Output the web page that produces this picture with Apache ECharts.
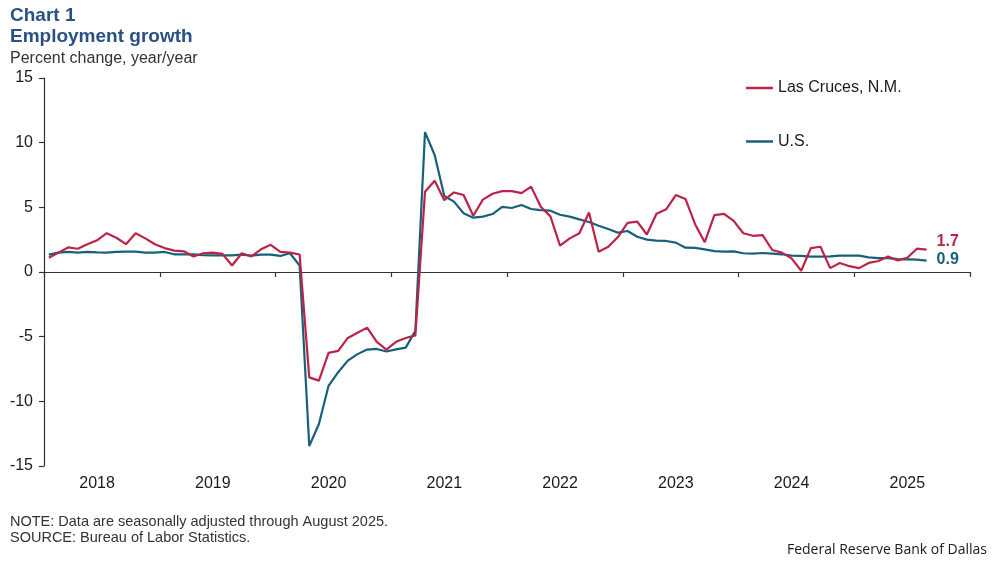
<!DOCTYPE html>
<html>
<head>
<meta charset="utf-8">
<script src="https://cdn.jsdelivr.net/npm/echarts@6/dist/echarts.min.js"></script>
<style>
html,body{margin:0;padding:0;background:#fff;}
#chart{width:997px;height:565px;}
</style>
</head>
<body>
<div id="chart"></div>
<script>
// ---- data ----
const years = ['2018','2019','2020','2021','2022','2023','2024','2025'];
const monthNames = ['01','02','03','04','05','06','07','08','09','10','11','12'];
const categories = [];
years.forEach(y => monthNames.forEach(m => categories.push(y + '-' + m)));

const seriesNames = ['Las Cruces, N.M.', 'U.S.'];

const lasCruces = [
  1.1, 1.5, 1.9, 1.8, 2.15, 2.45, 3.0, 2.65, 2.15, 3.0, 2.6, 2.15,
  1.85, 1.65, 1.6, 1.2, 1.45, 1.5, 1.4, 0.5, 1.45, 1.2, 1.75, 2.1,
  1.55, 1.5, 1.35, -8.15, -8.4, -6.25, -6.1, -5.1, -4.7, -4.3, -5.4, -6.0,
  -5.4, -5.1, -4.9, 6.2, 7.05, 5.55, 6.15, 5.95, 4.35, 5.6, 6.05, 6.25,
  6.25, 6.1, 6.6, 5.05, 4.3, 2.04, 2.6, 3.0, 4.6, 1.57, 1.95, 2.7,
  3.8, 3.9, 2.9, 4.5, 4.85, 5.95, 5.65, 3.7, 2.3, 4.4, 4.5, 3.95,
  3.0, 2.8, 2.85, 1.7, 1.5, 1.05, 0.1, 1.85, 1.95, 0.3, 0.7, 0.45,
  0.3, 0.7, 0.85, 1.2, 0.9, 1.1, 1.8, 1.73
];

const us = [
  1.34, 1.5, 1.55, 1.5, 1.55, 1.52, 1.5, 1.55, 1.57, 1.57, 1.5, 1.5,
  1.55, 1.37, 1.37, 1.37, 1.3, 1.29, 1.29, 1.29, 1.34, 1.26, 1.34, 1.34,
  1.24, 1.45, 0.5, -13.45, -11.75, -8.8, -7.75, -6.85, -6.35, -6.0, -5.95, -6.15,
  -5.98, -5.85, -4.55, 10.82, 9.05, 5.88, 5.44, 4.54, 4.2, 4.28, 4.48, 5.03,
  4.95, 5.18, 4.87, 4.79, 4.74, 4.43, 4.28, 4.07, 3.87, 3.58, 3.32, 3.04,
  3.17, 2.73, 2.5, 2.42, 2.4, 2.27, 1.88, 1.86, 1.75, 1.62, 1.57, 1.6,
  1.45, 1.42, 1.47, 1.42, 1.37, 1.26, 1.24, 1.19, 1.19, 1.21, 1.26, 1.26,
  1.26, 1.13, 1.08, 1.08, 1.0, 0.98, 0.95, 0.88
];

const yTicks = { min: -15, max: 15, interval: 5 };

// ---- chart ----
const RED = '#bd2346';
const TEAL = '#17607b';
const AXIS = '#333333';
const FONT = '"Liberation Sans", Arial, sans-serif';

const chart = echarts.init(document.getElementById('chart'), null, { renderer: 'canvas' });

const option = {
  backgroundColor: '#ffffff',
  animation: false,
  textStyle: { fontFamily: FONT },
  grid: { left: 44, right: 27, top: 78, bottom: 99, containLabel: false },
  legend: {
    orient: 'vertical',
    left: 741,
    top: 75,
    itemWidth: 27,
    itemHeight: 2.5,
    itemGap: 37.5,
    icon: 'rect',
    textStyle: { fontSize: 16, color: '#1a1a1a', fontFamily: FONT },
    data: seriesNames
  },
  xAxis: [
    {
      type: 'category',
      data: categories,
      boundaryGap: true,
      position: 'bottom',
      axisLine: { show: true, onZero: true, lineStyle: { color: AXIS, width: 1.2 } },
      axisTick: { show: true, interval: 11, length: 5, lineStyle: { color: AXIS, width: 1.2 } },
      axisLabel: { show: false },
      splitLine: { show: false }
    },
    {
      type: 'category',
      data: categories,
      boundaryGap: true,
      position: 'bottom',
      axisLine: { show: false, onZero: false },
      axisTick: { show: false },
      splitLine: { show: false },
      axisLabel: {
        show: true,
        interval: function (index) { return index % 12 === 5; },
        formatter: function (value) { return years[years.indexOf(value.slice(0, 4))]; },
        fontSize: 16,
        color: '#1a1a1a',
        fontFamily: FONT,
        margin: 10
      }
    }
  ],
  yAxis: {
    type: 'value',
    min: yTicks.min,
    max: yTicks.max,
    interval: yTicks.interval,
    axisLine: { show: true, lineStyle: { color: AXIS, width: 1.2 } },
    axisTick: { show: true, length: 5, lineStyle: { color: AXIS, width: 1.2 } },
    splitLine: { show: false },
    axisLabel: { fontSize: 16, color: '#1a1a1a', fontFamily: FONT, margin: 11 }
  },
  series: [
    {
      name: seriesNames[0],
      type: 'line',
      xAxisIndex: 0,
      data: lasCruces,
      symbol: 'none',
      lineStyle: { color: RED, width: 2.2 },
      itemStyle: { color: RED },
      endLabel: {
        show: true,
        formatter: p => Number(p.value).toFixed(1),
        color: RED,
        fontWeight: 'bold',
        fontSize: 16,
        fontFamily: FONT,
        distance: 10,
        offset: [0, -8]
      },
      z: 3
    },
    {
      name: seriesNames[1],
      type: 'line',
      xAxisIndex: 0,
      data: us,
      symbol: 'none',
      lineStyle: { color: TEAL, width: 2.2 },
      itemStyle: { color: TEAL },
      endLabel: {
        show: true,
        formatter: p => Number(p.value).toFixed(1),
        color: TEAL,
        fontWeight: 'bold',
        fontSize: 16,
        fontFamily: FONT,
        distance: 10,
        offset: [0, -1]
      },
      z: 2
    }
  ],
  graphic: [
    { type: 'text', left: 10, top: 6, style: { text: 'Chart 1', font: 'bold 19px ' + FONT, fill: '#2b5084' } },
    { type: 'text', left: 10, top: 27, style: { text: 'Employment growth', font: 'bold 19px ' + FONT, fill: '#2b5084' } },
    { type: 'text', left: 10, top: 51, style: { text: 'Percent change, year/year', font: '16px ' + FONT, fill: '#333333' } },
    { type: 'text', left: 10, top: 514, style: { text: 'NOTE: Data are seasonally adjusted through August 2025.', font: '14.5px ' + FONT, fill: '#333333' } },
    { type: 'text', left: 10, top: 530, style: { text: 'SOURCE: Bureau of Labor Statistics.', font: '14.5px ' + FONT, fill: '#333333' } },
    { type: 'text', right: 10, top: 543, style: { text: 'Federal Reserve Bank of Dallas', font: '14px "Open Sans", sans-serif', fill: '#1a1a1a' } }
  ]
};

chart.setOption(option);
</script>
</body>
</html>
